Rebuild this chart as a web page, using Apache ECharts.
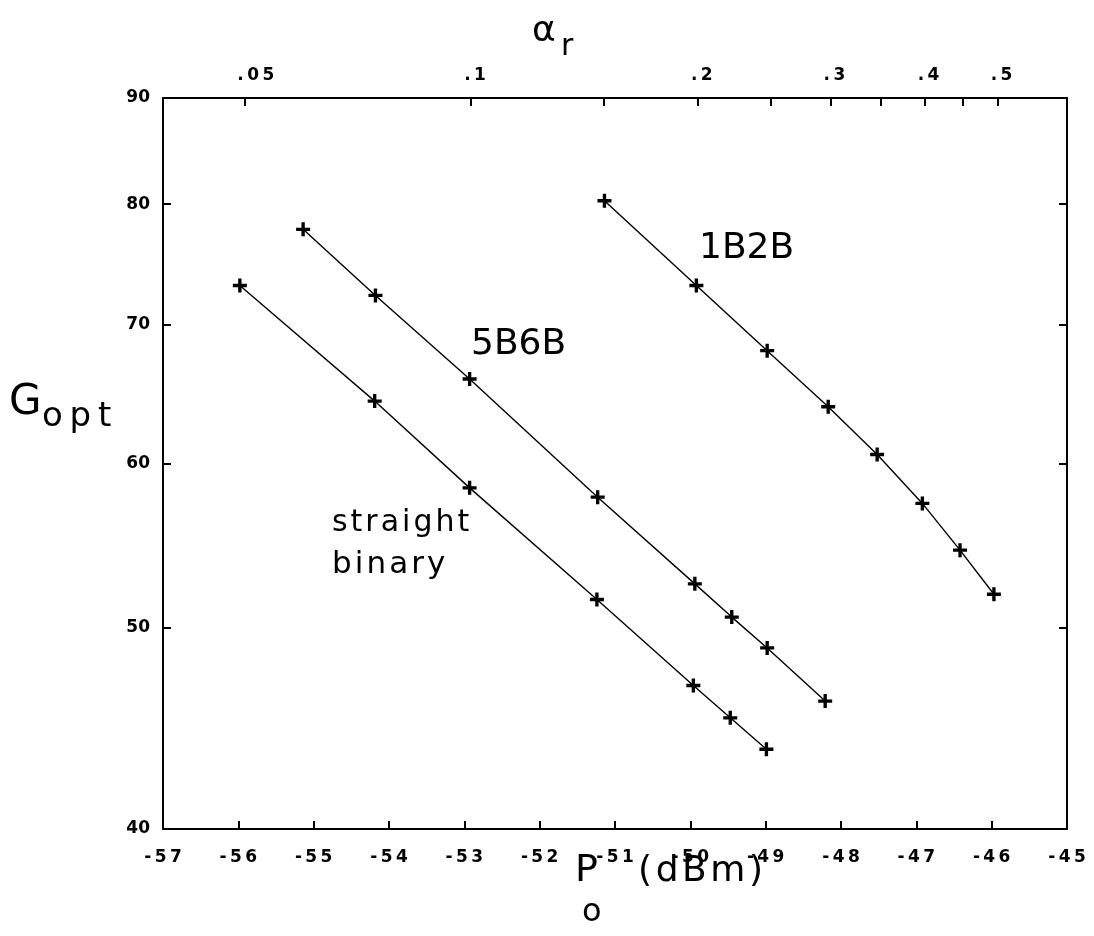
<!DOCTYPE html>
<html>
<head>
<meta charset="utf-8">
<script src="https://cdn.jsdelivr.net/npm/echarts@6/dist/echarts.min.js"></script>
<style>
  html, body { margin: 0; padding: 0; background: #fff; }
  #chart { width: 1094px; height: 936px; }
</style>
</head>
<body>
<div id="chart"></div>
<script>
// received power Po (dBm) and optimum gain Gopt
var binaryP = [-55.98, -54.19, -52.93, -51.24, -49.96, -49.47, -48.99];
var binaryG = [73.1, 64.3, 58.4, 51.6, 46.9, 45.25, 43.7];

var b5b6P = [-55.14, -54.18, -52.93, -51.23, -49.94, -49.45, -48.98, -48.21];
var b5b6G = [77.8, 72.3, 65.9, 57.8, 52.5, 50.6, 48.9, 46.1];

var b1b2P = [-51.14, -49.92, -48.98, -48.17, -47.52, -46.92, -46.42, -45.97];
var b1b2G = [80.3, 73.1, 68.0, 63.9, 60.6, 57.4, 54.5, 51.9];

// tick values
var gTicks = [40, 50, 60, 70, 80, 90];
var alphaTicks = [0.05, 0.1, 0.15, 0.2, 0.25, 0.3, 0.35, 0.4, 0.45, 0.5];
var alphaLabels = ['.05', '.1', '', '.2', '', '.3', '', '.4', '', '.5'];

// alpha_r -> Po on the top scale (10 dB per decade)
function alphaToP(a) {
  return -55.92 + 10 * Math.log10(a / 0.05);
}
var alphaP = alphaTicks.map(alphaToP);

function pairs(xs, ys) {
  var out = [];
  for (var i = 0; i < xs.length; i++) out.push([xs[i], ys[i]]);
  return out;
}

var plusSym = 'path://M3.8,0H6.2V3.8H10V6.2H6.2V10H3.8V6.2H0V3.8H3.8Z';
var tickFont = {
  color: '#000', fontFamily: 'DejaVu Sans', fontWeight: 'bold', fontSize: 17
};

// plotter lettering is widely spaced
function spaced(s) {
  return String(s).split('').join('\u2009');
}
function hair(s) {
  return String(s).split('').join('\u200A');
}

var chart = echarts.init(document.getElementById('chart'));

function lineSeries(name, xs, ys) {
  return {
    name: name,
    type: 'line',
    data: pairs(xs, ys),
    symbol: plusSym,
    symbolSize: 14,
    showSymbol: true,
    lineStyle: { color: '#000', width: 1.4 },
    itemStyle: { color: '#000' },
    animation: false
  };
}

var txt = function (left, top, text, size) {
  return { type: 'text', left: left, top: top,
    style: { text: text, font: size + 'px "DejaVu Sans"', fill: '#000' } };
};

var option = {
  backgroundColor: '#fff',
  animation: false,
  grid: { left: 163, top: 98, right: 27, bottom: 107, containLabel: false },
  xAxis: [{
    type: 'value', min: -57, max: -45, interval: 1, position: 'bottom',
    axisLine: { lineStyle: { color: '#000', width: 2 } },
    axisTick: { inside: true, length: 8, lineStyle: { color: '#000', width: 2 } },
    splitLine: { show: false },
    axisLabel: Object.assign({ margin: 20, formatter: function (v) { return spaced(v); } }, tickFont)
  }, {
    type: 'value', min: -57, max: -45, position: 'top',
    axisLine: { lineStyle: { color: '#000', width: 2 } },
    axisTick: { inside: true, length: 8, customValues: alphaP, lineStyle: { color: '#000', width: 2 } },
    splitLine: { show: false },
    axisLabel: Object.assign({
      margin: 14, align: 'left', padding: [0, 0, 0, -7], customValues: alphaP,
      formatter: function (v) {
        var best = 0;
        for (var i = 1; i < alphaP.length; i++) {
          if (Math.abs(alphaP[i] - v) < Math.abs(alphaP[best] - v)) best = i;
        }
        return spaced(alphaLabels[best]);
      }
    }, tickFont)
  }],
  yAxis: [{
    type: 'log', logBase: 10, min: 40, max: 90, position: 'left',
    axisLine: { lineStyle: { color: '#000', width: 2 } },
    axisTick: { inside: true, length: 8, customValues: gTicks, lineStyle: { color: '#000', width: 2 } },
    minorTick: { show: false },
    splitLine: { show: false },
    axisLabel: Object.assign({ margin: 13, customValues: gTicks }, tickFont)
  }, {
    type: 'log', logBase: 10, min: 40, max: 90, position: 'right',
    axisLine: { lineStyle: { color: '#000', width: 2 } },
    axisTick: { inside: true, length: 8, customValues: gTicks, lineStyle: { color: '#000', width: 2 } },
    splitLine: { show: false },
    axisLabel: { show: false }
  }],
  series: [
    lineSeries('straight binary', binaryP, binaryG),
    lineSeries('5B6B', b5b6P, b5b6G),
    lineSeries('1B2B', b1b2P, b1b2G)
  ],
  graphic: [
    txt(532, 14, 'α', 36),
    txt(561, 32, 'r', 30),
    txt(9, 382, 'G', 42),
    txt(42, 400, spaced('opt'), 34),
    txt(575, 852, 'P', 38),
    txt(582, 897, 'o', 32),
    txt(638, 854, hair('(dBm)'), 36),
    txt(699, 231, '1B2B', 36),
    txt(471, 327, '5B6B', 36),
    txt(332, 508, hair('straight'), 30),
    txt(332, 549, hair('binary'), 31)
  ]
};

chart.setOption(option);
</script>
</body>
</html>
